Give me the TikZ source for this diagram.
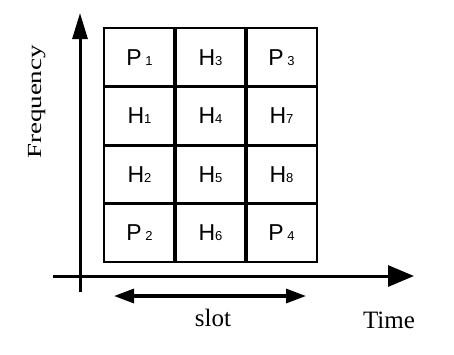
\documentclass[tikz,border=0pt]{standalone}
\usepackage{fontspec}
\setmainfont{Liberation Serif}
\newfontfamily\cellfont{Liberation Sans}
\usepackage{tikz}
\usetikzlibrary{positioning,arrows.meta,calc}

\newcommand{\idx}[1]{{\fontsize{13}{13}\selectfont #1}}

\begin{document}
\begin{tikzpicture}[
  x=1pt, y=-1pt,
  cell/.style={draw,line width=2.2pt,minimum width=71pt,minimum height=58.5pt,
    inner sep=0pt,outer sep=0pt,font=\cellfont\fontsize{23}{23}\selectfont},
  axis/.style={line width=3pt},
  span/.style={line width=3.2pt,{Triangle[length=20pt,width=14pt]}-{Triangle[length=20pt,width=14pt]}},
  lbl/.style={font=\fontsize{25}{25}\selectfont}
]
\useasboundingbox (0,0) rectangle (454,354);
% cells, column by column
\node[cell] (c11) at (139.5,57.25) {P\,\idx{1}};
\node[cell,below=0pt of c11] (c21) {H\idx{1}};
\node[cell,below=0pt of c21] (c31) {H\idx{2}};
\node[cell,below=0pt of c31] (c41) {P\,\idx{2}};
\node[cell,right=0pt of c11] (c12) {H\idx{3}};
\node[cell,below=0pt of c12] (c22) {H\idx{4}};
\node[cell,below=0pt of c22] (c32) {H\idx{5}};
\node[cell,below=0pt of c32] (c42) {H\idx{6}};
\node[cell,right=0pt of c12] (c13) {P\,\idx{3}};
\node[cell,below=0pt of c13] (c23) {H\idx{7}};
\node[cell,below=0pt of c23] (c33) {H\idx{8}};
\node[cell,below=0pt of c33] (c43) {P\,\idx{4}};
\draw[line width=3.4pt] (c11.north east) -- (c41.south east);
\draw[line width=3.4pt] (c12.north east) -- (c42.south east);
\draw[line width=3pt] (c21.south west) -- (c23.south east);
\draw[line width=3pt] (c31.south west) -- (c33.south east);
% axes
\coordinate (o1) at (80,292);
\coordinate (fy) at (80,13);
\coordinate (o2) at (53,276);
\coordinate (tx) at (414,276);
\draw[axis,-{Triangle[length=26pt,width=15pt]}] (o1) -- (fy);
\draw[axis,-{Triangle[length=26pt,width=21pt]}] (o2) -- (tx);
\coordinate (s1) at (114,296);
\coordinate (s2) at (306,296);
\draw[span] (s1) -- (s2);
\node[lbl] (slot) at (213,318) {slot};
\node[lbl] (time) at (389,320) {Time};
\node[rotate=90,font=\fontsize{20}{20}\selectfont] (freq) at (37,102)
  {\scalebox{1.35}[1]{Frequency}};
\end{tikzpicture}
\end{document}
